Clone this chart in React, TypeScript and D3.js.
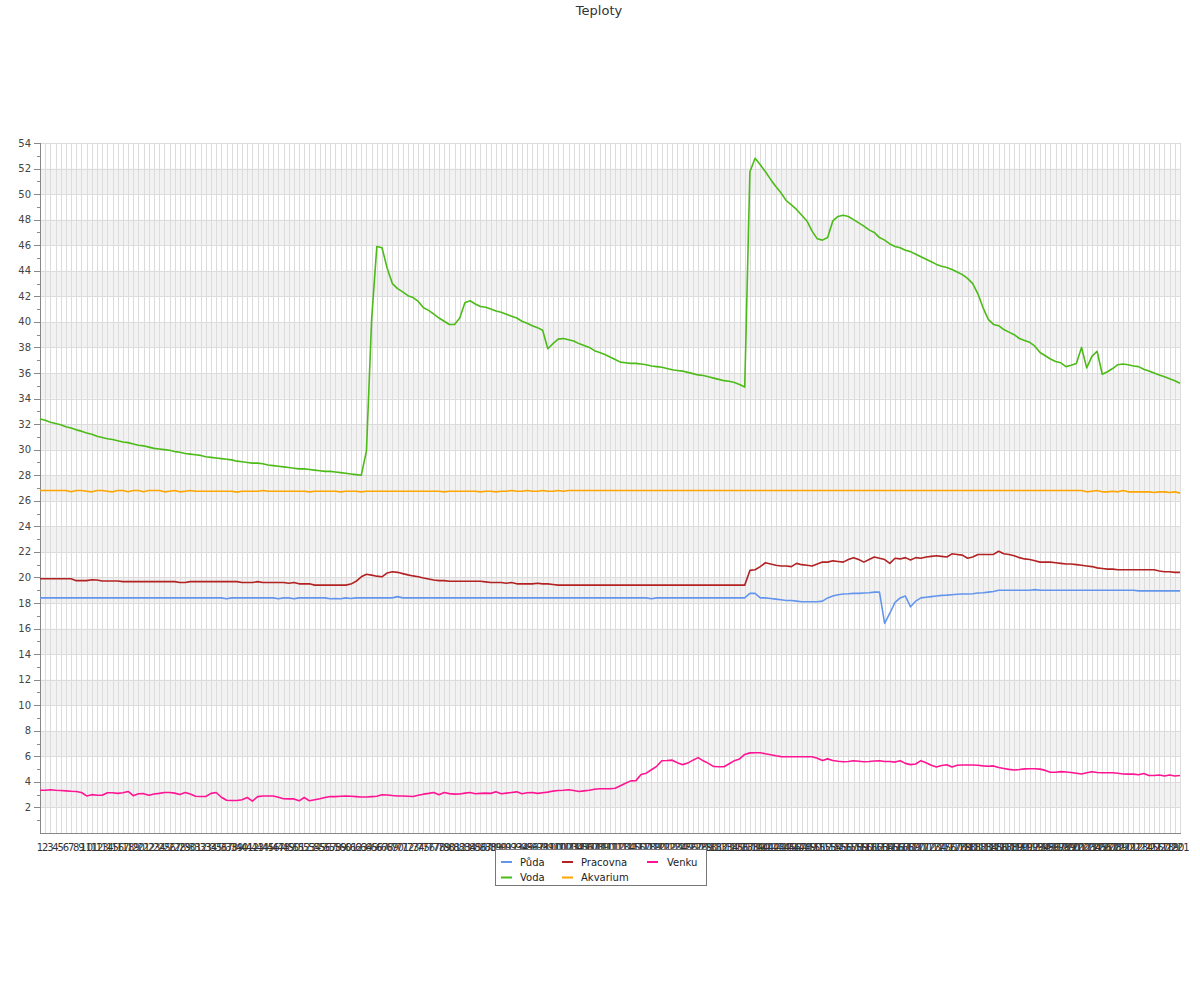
import React from 'react';
import * as d3 from 'd3';

const categories: string[] = d3.range(1, 222).map(String);

const puda: number[] = [
  18.4, 18.4, 18.4, 18.4, 18.4, 18.4, 18.4, 18.4, 18.4, 18.4,
  18.4, 18.4, 18.4, 18.4, 18.4, 18.4, 18.4, 18.4, 18.4, 18.4,
  18.4, 18.4, 18.4, 18.4, 18.4, 18.4, 18.4, 18.4, 18.4, 18.4,
  18.4, 18.4, 18.4, 18.4, 18.4, 18.4, 18.33, 18.4, 18.4, 18.4,
  18.4, 18.4, 18.4, 18.4, 18.4, 18.4, 18.33, 18.4, 18.4, 18.33,
  18.4, 18.4, 18.4, 18.4, 18.4, 18.4, 18.33, 18.35, 18.33, 18.4,
  18.35, 18.4, 18.4, 18.4, 18.4, 18.4, 18.4, 18.4, 18.4, 18.5,
  18.4, 18.4, 18.4, 18.4, 18.4, 18.4, 18.4, 18.4, 18.4, 18.4,
  18.4, 18.4, 18.4, 18.4, 18.4, 18.4, 18.4, 18.4, 18.4, 18.4,
  18.4, 18.4, 18.4, 18.4, 18.4, 18.4, 18.4, 18.4, 18.4, 18.4,
  18.4, 18.4, 18.4, 18.4, 18.4, 18.4, 18.4, 18.4, 18.4, 18.4,
  18.4, 18.4, 18.4, 18.4, 18.4, 18.4, 18.4, 18.4, 18.33, 18.4,
  18.4, 18.4, 18.4, 18.4, 18.4, 18.4, 18.4, 18.4, 18.4, 18.4,
  18.4, 18.4, 18.4, 18.4, 18.4, 18.4, 18.4, 18.75, 18.75, 18.4,
  18.4, 18.35, 18.3, 18.25, 18.2, 18.2, 18.15, 18.1, 18.1, 18.1,
  18.1, 18.15, 18.4, 18.55, 18.65, 18.7, 18.72, 18.75, 18.75, 18.78,
  18.8, 18.85, 18.85, 16.4, 17.2, 18.05, 18.4, 18.55, 17.7, 18.15,
  18.4, 18.45, 18.5, 18.55, 18.6, 18.62, 18.65, 18.68, 18.7, 18.7,
  18.72, 18.78, 18.8, 18.85, 18.9, 19.0, 19.0, 19.0, 19.0, 19.0,
  19.0, 19.0, 19.05, 19.0, 19.0, 19.0, 19.0, 19.0, 19.0, 19.0,
  19.0, 19.0, 19.0, 19.0, 19.0, 19.0, 19.0, 19.0, 19.0, 19.0,
  19.0, 19.0, 18.95, 18.95, 18.95, 18.95, 18.95, 18.95, 18.95, 18.95,
  18.95,
];

const pracovna: number[] = [
  19.9, 19.9, 19.9, 19.9, 19.9, 19.9, 19.9, 19.75, 19.75, 19.75,
  19.82, 19.8, 19.72, 19.72, 19.72, 19.72, 19.67, 19.67, 19.67, 19.67,
  19.67, 19.67, 19.67, 19.67, 19.67, 19.67, 19.67, 19.6, 19.6, 19.67,
  19.67, 19.67, 19.67, 19.67, 19.67, 19.67, 19.67, 19.67, 19.67, 19.6,
  19.6, 19.6, 19.67, 19.6, 19.6, 19.6, 19.6, 19.6, 19.55, 19.6,
  19.5, 19.5, 19.5, 19.4, 19.4, 19.4, 19.4, 19.4, 19.4, 19.4,
  19.48, 19.7, 20.05, 20.25, 20.18, 20.1, 20.05, 20.35, 20.45, 20.4,
  20.3, 20.2, 20.12, 20.06, 19.95, 19.88, 19.8, 19.75, 19.75, 19.7,
  19.7, 19.7, 19.7, 19.7, 19.7, 19.7, 19.65, 19.6, 19.6, 19.6,
  19.55, 19.6, 19.5, 19.5, 19.5, 19.5, 19.55, 19.5, 19.5, 19.45,
  19.4, 19.4, 19.4, 19.4, 19.4, 19.4, 19.4, 19.4, 19.4, 19.4,
  19.4, 19.4, 19.4, 19.4, 19.4, 19.4, 19.4, 19.4, 19.4, 19.4,
  19.4, 19.4, 19.4, 19.4, 19.4, 19.4, 19.4, 19.4, 19.4, 19.4,
  19.4, 19.4, 19.4, 19.4, 19.4, 19.4, 19.4, 20.55, 20.6, 20.85,
  21.15, 21.05, 20.95, 20.9, 20.9, 20.85, 21.1, 21.0, 20.95, 20.9,
  21.05, 21.2, 21.2, 21.3, 21.25, 21.2, 21.4, 21.55, 21.4, 21.2,
  21.4, 21.6, 21.5, 21.4, 21.1, 21.5, 21.45, 21.55, 21.36, 21.55,
  21.5, 21.6, 21.65, 21.7, 21.65, 21.6, 21.85, 21.8, 21.75, 21.5,
  21.6, 21.8, 21.8, 21.8, 21.8, 22.05, 21.85, 21.8, 21.7, 21.55,
  21.45, 21.4, 21.3, 21.2, 21.2, 21.2, 21.15, 21.1, 21.05, 21.05,
  21.0, 20.95, 20.9, 20.85, 20.75, 20.7, 20.65, 20.65, 20.6, 20.6,
  20.6, 20.6, 20.6, 20.6, 20.6, 20.6, 20.5, 20.45, 20.45, 20.4,
  20.4,
];

const venku: number[] = [
  3.35, 3.35, 3.38, 3.35, 3.33, 3.3, 3.27, 3.25, 3.17, 2.9,
  3.0, 2.95, 2.95, 3.15, 3.15, 3.1, 3.15, 3.25, 2.92, 3.07,
  3.08, 2.95, 3.05, 3.1, 3.17, 3.17, 3.12, 3.02, 3.17, 3.05,
  2.88, 2.86, 2.86, 3.1, 3.17, 2.8, 2.56, 2.54, 2.54, 2.6,
  2.78, 2.5, 2.85, 2.9, 2.9, 2.9, 2.8, 2.68, 2.67, 2.67,
  2.52, 2.78, 2.52, 2.6, 2.68, 2.78, 2.85, 2.85, 2.88, 2.9,
  2.88, 2.85, 2.82, 2.82, 2.85, 2.88, 2.99, 2.97, 2.93, 2.9,
  2.9, 2.88, 2.86, 2.95, 3.04, 3.1, 3.17, 2.99, 3.17, 3.08,
  3.04, 3.05, 3.12, 3.17, 3.07, 3.1, 3.12, 3.1, 3.22, 3.07,
  3.12, 3.17, 3.22, 3.07, 3.15, 3.17, 3.1, 3.15, 3.2, 3.28,
  3.33, 3.35, 3.38, 3.32, 3.25, 3.3, 3.35, 3.42, 3.46, 3.46,
  3.46, 3.5, 3.7, 3.9, 4.08, 4.1, 4.58, 4.68, 4.95, 5.22,
  5.65, 5.67, 5.7, 5.5, 5.35, 5.47, 5.7, 5.9, 5.65, 5.45,
  5.2, 5.19, 5.19, 5.42, 5.66, 5.8, 6.15, 6.27, 6.28, 6.28,
  6.2, 6.13, 6.05, 5.98, 5.97, 5.97, 5.97, 5.97, 5.97, 5.97,
  5.85, 5.68, 5.8, 5.68, 5.62, 5.58, 5.6, 5.66, 5.62, 5.58,
  5.6, 5.63, 5.66, 5.6, 5.6, 5.55, 5.66, 5.45, 5.35, 5.4,
  5.66, 5.5, 5.3, 5.16, 5.28, 5.34, 5.16, 5.3, 5.32, 5.32,
  5.32, 5.3, 5.25, 5.22, 5.25, 5.12, 5.05, 4.98, 4.93, 4.97,
  5.02, 5.03, 5.03, 5.0, 4.9, 4.75, 4.75, 4.8, 4.77, 4.74,
  4.68, 4.62, 4.72, 4.8, 4.74, 4.72, 4.72, 4.72, 4.68, 4.62,
  4.61, 4.61, 4.56, 4.65, 4.5, 4.5, 4.54, 4.46, 4.54, 4.46,
  4.5,
];

const voda: number[] = [
  32.4, 32.3, 32.15, 32.05, 31.95, 31.8, 31.7, 31.55, 31.45, 31.3,
  31.2, 31.05, 30.95, 30.85, 30.8, 30.7, 30.6, 30.55, 30.45, 30.35,
  30.3, 30.2, 30.1, 30.05, 30.0, 29.95, 29.85, 29.8, 29.7, 29.65,
  29.6, 29.55, 29.45, 29.4, 29.35, 29.3, 29.25, 29.2, 29.1, 29.05,
  29.0, 28.95, 28.95, 28.9, 28.8, 28.75, 28.7, 28.65, 28.6, 28.55,
  28.5, 28.5, 28.45, 28.4, 28.35, 28.3, 28.3, 28.25, 28.2, 28.15,
  28.1, 28.05, 28.0, 29.9, 40.2, 45.9, 45.8, 44.2, 43.0, 42.6,
  42.35, 42.05, 41.9, 41.6, 41.1, 40.9, 40.6, 40.3, 40.05, 39.8,
  39.8, 40.3, 41.5, 41.65, 41.4, 41.2, 41.15, 41.0, 40.85, 40.75,
  40.6, 40.45, 40.3, 40.05, 39.9, 39.7, 39.55, 39.35, 37.9, 38.3,
  38.65, 38.7, 38.6, 38.5, 38.3, 38.15, 38.0, 37.75, 37.6, 37.45,
  37.25, 37.05, 36.85, 36.8, 36.75, 36.75, 36.7, 36.65, 36.55, 36.5,
  36.45, 36.35, 36.25, 36.2, 36.15, 36.05, 35.95, 35.85, 35.8, 35.7,
  35.6, 35.5, 35.4, 35.35, 35.25, 35.1, 34.9, 51.75, 52.8, 52.3,
  51.75, 51.15, 50.6, 50.1, 49.5, 49.15, 48.8, 48.35, 47.9, 47.1,
  46.5, 46.4, 46.6, 47.9, 48.25, 48.35, 48.25, 48.0, 47.75, 47.5,
  47.2, 47.0, 46.6, 46.4, 46.1, 45.9, 45.8, 45.6, 45.5, 45.3,
  45.1, 44.9, 44.7, 44.5, 44.35, 44.25, 44.1, 43.9, 43.7, 43.4,
  43.0, 42.2, 41.1, 40.2, 39.8, 39.7, 39.4, 39.2, 39.0, 38.7,
  38.55, 38.4, 38.1, 37.6, 37.35, 37.1, 36.9, 36.8, 36.5, 36.6,
  36.75, 38.0, 36.4, 37.3, 37.7, 35.9, 36.1, 36.35, 36.65, 36.7,
  36.65, 36.55, 36.5, 36.3, 36.15, 36.0, 35.85, 35.7, 35.55, 35.4,
  35.2,
];

const akvarium: number[] = [
  26.8, 26.8, 26.8, 26.8, 26.8, 26.8, 26.7, 26.8, 26.8, 26.75,
  26.7, 26.8, 26.8, 26.75, 26.7, 26.8, 26.8, 26.7, 26.8, 26.8,
  26.7, 26.8, 26.8, 26.8, 26.7, 26.75, 26.8, 26.7, 26.75, 26.8,
  26.75, 26.75, 26.75, 26.75, 26.75, 26.75, 26.75, 26.75, 26.68, 26.75,
  26.75, 26.75, 26.75, 26.8, 26.75, 26.75, 26.75, 26.75, 26.75, 26.75,
  26.75, 26.75, 26.7, 26.75, 26.75, 26.75, 26.75, 26.75, 26.7, 26.75,
  26.75, 26.75, 26.7, 26.75, 26.75, 26.75, 26.75, 26.75, 26.75, 26.75,
  26.75, 26.75, 26.75, 26.75, 26.75, 26.75, 26.75, 26.75, 26.7, 26.75,
  26.75, 26.75, 26.75, 26.75, 26.75, 26.7, 26.75, 26.75, 26.7, 26.75,
  26.75, 26.8, 26.75, 26.75, 26.8, 26.75, 26.75, 26.8, 26.75, 26.75,
  26.8, 26.75, 26.8, 26.8, 26.8, 26.8, 26.8, 26.8, 26.8, 26.8,
  26.8, 26.8, 26.8, 26.8, 26.8, 26.8, 26.8, 26.8, 26.8, 26.8,
  26.8, 26.8, 26.8, 26.8, 26.8, 26.8, 26.8, 26.8, 26.8, 26.8,
  26.8, 26.8, 26.8, 26.8, 26.8, 26.8, 26.8, 26.8, 26.8, 26.8,
  26.8, 26.8, 26.8, 26.8, 26.8, 26.8, 26.8, 26.8, 26.8, 26.8,
  26.8, 26.8, 26.8, 26.8, 26.8, 26.8, 26.8, 26.8, 26.8, 26.8,
  26.8, 26.8, 26.8, 26.8, 26.8, 26.8, 26.8, 26.8, 26.8, 26.8,
  26.8, 26.8, 26.8, 26.8, 26.8, 26.8, 26.8, 26.8, 26.8, 26.8,
  26.8, 26.8, 26.8, 26.8, 26.8, 26.8, 26.8, 26.8, 26.8, 26.8,
  26.8, 26.8, 26.8, 26.8, 26.8, 26.8, 26.8, 26.8, 26.8, 26.8,
  26.8, 26.8, 26.7, 26.75, 26.8, 26.7, 26.7, 26.75, 26.7, 26.8,
  26.7, 26.7, 26.7, 26.7, 26.7, 26.65, 26.7, 26.7, 26.65, 26.7,
  26.6,
];

const yTicks: number[] = d3.range(2, 55, 2);
const yMinorTicks: number[] = d3.range(1, 55, 2);

const seriesList = [
  { name: 'Půda', color: '#6495ED', values: puda },
  { name: 'Pracovna', color: '#B22222', values: pracovna },
  { name: 'Venku', color: '#FF1493', values: venku },
  { name: 'Voda', color: '#4CBB17', values: voda },
  { name: 'Akvarium', color: '#FFA500', values: akvarium },
];

const W = 1200;
const H = 1000;
const left = 40;
const right = 1180;
const top = 143;
const bottom = 833;
const FONT = 'DejaVu Sans, Verdana, sans-serif';

export default function App() {
  const x = d3.scalePoint<string>().domain(categories).range([left, right]);
  const y = d3.scaleLinear().domain([0, 54]).range([bottom, top]);

  const bands = d3.range(2, 54, 4); // gray bands 2-4, 6-8, ...
  const legendPos = [
    { lx: 501, tx: 520, ly: 862 },
    { lx: 562, tx: 581, ly: 862 },
    { lx: 647, tx: 667, ly: 862 },
    { lx: 501, tx: 520, ly: 877.5 },
    { lx: 562, tx: 581, ly: 877.5 },
  ];

  return (
    <svg width={W} height={H} style={{ position: 'absolute', left: 0, top: 0, background: '#fff' }}
      fontFamily={FONT}>
      <rect x={0} y={0} width={W} height={H} fill="#fff" />
      <text x={599} y={15} textAnchor="middle" fontSize={13} fill="#333">Teploty</text>

      {bands.map((b) => (
        <rect key={'b' + b} x={left} y={y(b + 2)} width={right - left} height={y(b) - y(b + 2)} fill="#f2f2f2" />
      ))}
      {yTicks.map((t) => (
        <line key={'hg' + t} x1={left} x2={right} y1={Math.round(y(t)) + 0.5} y2={Math.round(y(t)) + 0.5}
          stroke="#dcdcdc" strokeWidth={1} />
      ))}
      {categories.map((c) => (
        <line key={'vg' + c} x1={Math.round(x(c)!) + 0.5} x2={Math.round(x(c)!) + 0.5} y1={top} y2={bottom}
          stroke="#dcdcdc" strokeWidth={1} />
      ))}

      {/* axes */}
      <line x1={left + 0.5} x2={left + 0.5} y1={top} y2={bottom} stroke="#888" />
      <line x1={left} x2={right + 1} y1={bottom + 0.5} y2={bottom + 0.5} stroke="#888" />
      {yTicks.map((t) => (
        <g key={'yt' + t}>
          <line x1={34} x2={left} y1={Math.round(y(t)) + 0.5} y2={Math.round(y(t)) + 0.5} stroke="#888" />
          <text x={31} y={y(t)} dy="0.36em" textAnchor="end" fontSize={10} fill="#444">{t}</text>
        </g>
      ))}
      {yMinorTicks.map((t) => (
        <line key={'ym' + t} x1={37} x2={left} y1={Math.round(y(t)) + 0.5} y2={Math.round(y(t)) + 0.5} stroke="#888" />
      ))}
      {categories.map((c) => (
        <text key={'xl' + c} x={x(c)} y={851} textAnchor="middle" fontSize={10} fill="#333">{c}</text>
      ))}

      {seriesList.map((s) => {
        const line = d3.line<number>()
          .x((_, i) => x(categories[i])!)
          .y((v) => y(v));
        return (
          <path key={s.name} d={line(s.values) || ''} fill="none" stroke={s.color} strokeWidth={1.6}
            strokeLinejoin="round" />
        );
      })}

      {/* legend */}
      <rect x={495.5} y={849.5} width={211} height={36} fill="#fff" stroke="#777" />
      {seriesList.map((s, i) => (
        <g key={'lg' + s.name}>
          <line x1={legendPos[i].lx} x2={legendPos[i].lx + 11} y1={legendPos[i].ly} y2={legendPos[i].ly}
            stroke={s.color} strokeWidth={2} />
          <text x={legendPos[i].tx} y={legendPos[i].ly} dy="0.35em" fontSize={10} fill="#222">{s.name}</text>
        </g>
      ))}
    </svg>
  );
}
